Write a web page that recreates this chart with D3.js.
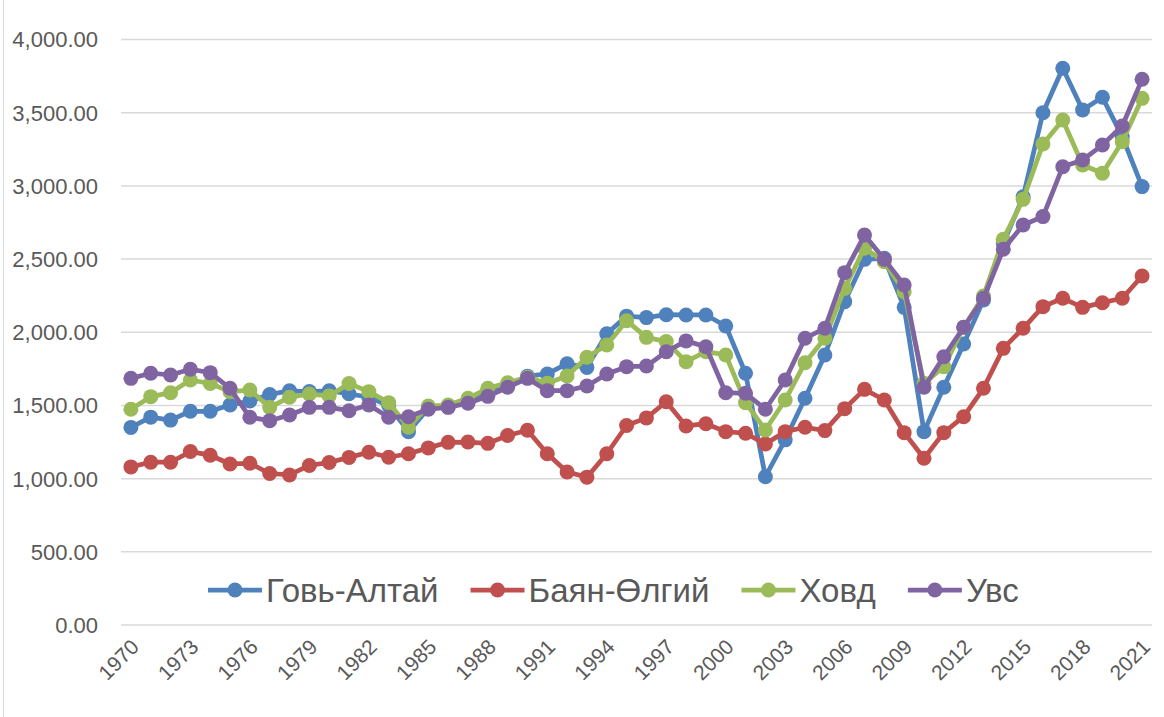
<!DOCTYPE html>
<html>
<head>
<meta charset="utf-8">
<script src="https://cdn.jsdelivr.net/npm/d3@7"></script>
<style>
  html, body { margin: 0; padding: 0; background: #ffffff; }
  svg { display: block; font-family: "Liberation Sans", Arial, sans-serif; }
</style>
</head>
<body>
<svg id="chart" width="1164" height="717"></svg>
<script>
const years = d3.range(1970, 2022);
const seriesNames = ["Говь-Алтай", "Баян-Өлгий", "Ховд", "Увс"];
const seriesColors = ["#4F81BD", "#C0504D", "#9BBB59", "#8064A2"];
const yTicks = [0, 500, 1000, 1500, 2000, 2500, 3000, 3500, 4000];
const xTickLabels = d3.range(1970, 2022, 3);

const govAltai = [1350, 1420, 1400, 1460, 1460, 1503, 1530, 1575, 1600, 1595,
  1600, 1580, 1556, 1500, 1321, 1480, 1490, 1537, 1594, 1640,
  1700, 1715, 1785, 1760, 1990, 2110, 2100, 2120, 2118, 2118,
  2043, 1720, 1013, 1265, 1549, 1845, 2209, 2498, 2505, 2170,
  1321, 1624, 1920, 2220, 2608, 2926, 3500, 3803, 3519, 3605,
  3336, 2995];
const bayanOlgii = [1080, 1112, 1112, 1185, 1160, 1100, 1105, 1035, 1025, 1090,
  1110, 1145, 1180, 1146, 1170, 1210, 1248, 1250, 1241, 1295,
  1330, 1170, 1045, 1010, 1170, 1363, 1415, 1525, 1360, 1375,
  1321, 1310, 1237, 1321, 1351, 1328, 1478, 1610, 1537, 1314,
  1139, 1314, 1423, 1617, 1890, 2027, 2175, 2232, 2170, 2202,
  2232, 2384];
const khovd = [1474, 1560, 1587, 1674, 1650, 1594, 1605, 1487, 1556, 1578,
  1565, 1650, 1594, 1519, 1351, 1496, 1503, 1549, 1617, 1655,
  1692, 1651, 1701, 1829, 1913, 2079, 1965, 1936, 1799, 1867,
  1845, 1519, 1332, 1537, 1792, 1959, 2300, 2574, 2482, 2277,
  1651, 1765, 2034, 2248, 2635, 2908, 3286, 3450, 3143, 3086,
  3302, 3598];
const uvs = [1685, 1720, 1708, 1747, 1724, 1617, 1419, 1396, 1435, 1487,
  1487, 1464, 1503, 1419, 1423, 1474, 1487, 1515, 1562, 1624,
  1685, 1601, 1601, 1633, 1715, 1765, 1769, 1867, 1941, 1901,
  1587, 1583, 1474, 1674, 1959, 2027, 2407, 2664, 2498, 2323,
  1624, 1833, 2034, 2232, 2567, 2733, 2790, 3131, 3177, 3279,
  3409, 3728];

const seriesValues = [govAltai, bayanOlgii, khovd, uvs];

const svg = d3.select("#chart");
const plotLeft = 121, plotRight = 1152, plotTop = 39.5, plotBottom = 625;

const x = d3.scaleBand().domain(years).range([plotLeft, plotRight]).padding(0);
const y = d3.scaleLinear().domain([0, 4000]).range([plotBottom, plotTop]);

// chart border (left edge visible)
svg.append("rect").attr("x", 3.5).attr("y", -20).attr("width", 1300).attr("height", 1000)
  .attr("fill", "none").attr("stroke", "#d9d9d9").attr("stroke-width", 1);

// gridlines
svg.append("g").selectAll("line").data(yTicks).join("line")
  .attr("x1", plotLeft).attr("x2", plotRight)
  .attr("y1", d => y(d)).attr("y2", d => y(d))
  .attr("stroke", "#d9d9d9").attr("stroke-width", 1.5);

// y axis labels
const fmt = d3.format(",.2f");
svg.append("g").selectAll("text").data(yTicks).join("text")
  .attr("x", 98).attr("y", d => y(d)).attr("dy", "0.36em")
  .attr("text-anchor", "end").attr("font-size", 22).attr("fill", "#595959")
  .text(d => fmt(d));

// x axis labels
svg.append("g").selectAll("text").data(xTickLabels).join("text")
  .attr("transform", d => `translate(${x(d) + x.bandwidth() / 2 + 4},${plotBottom + 18}) rotate(-45)`)
  .attr("text-anchor", "end").attr("dy", "0.36em")
  .attr("font-size", 21).attr("fill", "#595959")
  .text(d => d);

// series
const line = d3.line().x((d, i) => x(years[i]) + x.bandwidth() / 2).y(d => y(d));
seriesValues.forEach((vals, si) => {
  const g = svg.append("g");
  g.append("path").datum(vals).attr("d", line)
    .attr("fill", "none").attr("stroke", seriesColors[si])
    .attr("stroke-width", 4.75).attr("stroke-linejoin", "round");
  g.selectAll("circle").data(vals).join("circle")
    .attr("cx", (d, i) => x(years[i]) + x.bandwidth() / 2)
    .attr("cy", d => y(d)).attr("r", 7.5)
    .attr("fill", seriesColors[si]);
});

// legend
const legend = svg.append("g");
let lx = 208;
const ly = 590;
seriesNames.forEach((name, si) => {
  legend.append("line").attr("x1", lx).attr("x2", lx + 54).attr("y1", ly).attr("y2", ly)
    .attr("stroke", seriesColors[si]).attr("stroke-width", 4.75);
  legend.append("circle").attr("cx", lx + 27).attr("cy", ly).attr("r", 7.5).attr("fill", seriesColors[si]);
  const t = legend.append("text").attr("x", lx + 58).attr("y", ly).attr("dy", "0.36em")
    .attr("font-size", 33).attr("fill", "#595959").text(name);
  lx += 58 + t.node().getComputedTextLength() + 32;
});
</script>
</body>
</html>
